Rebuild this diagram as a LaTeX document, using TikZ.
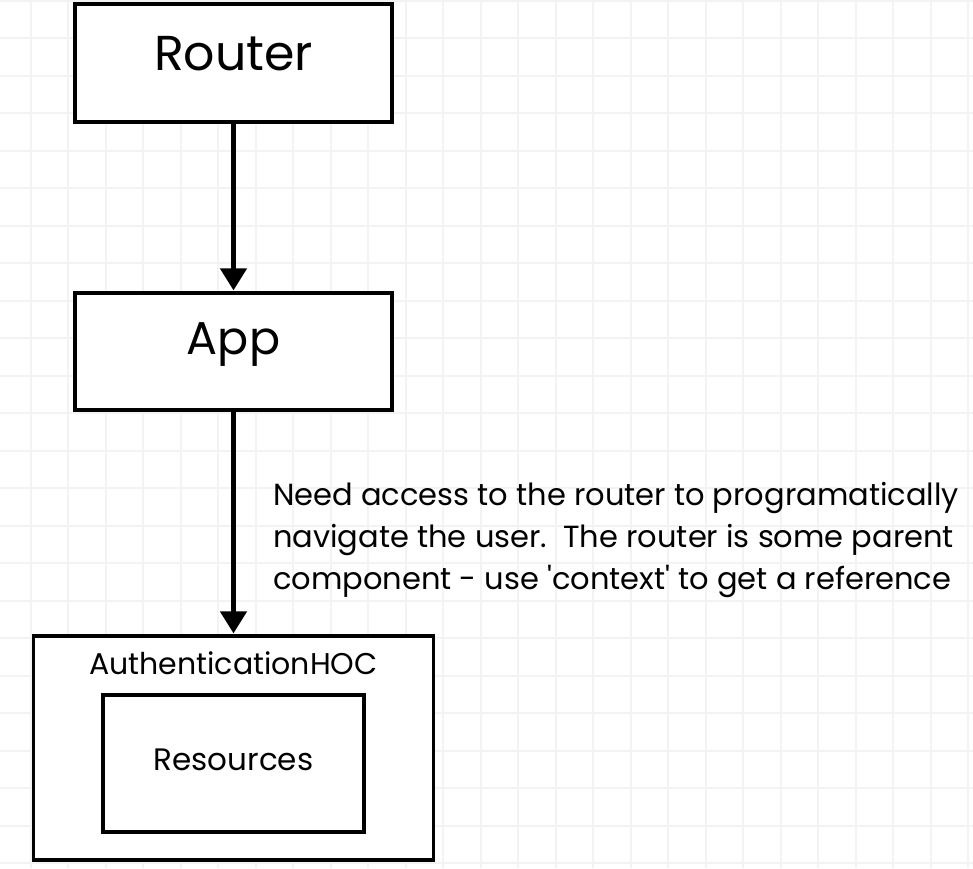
\documentclass[tikz,border=0pt]{standalone}
\usepackage{fontspec}
\setmainfont{Poppins}[Ligatures=TeXOff]
\usetikzlibrary{arrows.meta}
\definecolor{gridc}{HTML}{F3F3F3}
\tikzset{
  box/.style={draw=black, line width=3.2pt, fill=white, inner sep=0pt},
  conn/.style={line width=4.5pt, -{Triangle[length=22pt,width=26pt]}, shorten >=1pt},
  big/.style={font=\fontsize{46}{50}\selectfont},
  mid/.style={font=\fontsize{30}{34}\selectfont},
}
\begin{document}
\begin{tikzpicture}[x=1pt,y=-1pt]
\useasboundingbox (0,0) rectangle (973,868);
\fill[white] (0,0) rectangle (973,868);
\foreach \k in {0,...,26} {
  \draw[gridc, line width=2pt] ({30.7+37.5*\k-37.5},0) -- ({30.7+37.5*\k-37.5},868);
  \draw[gridc, line width=2pt] (0,{0.8+37.5*\k}) -- (973,{0.8+37.5*\k});
}
\node[box, minimum width=317pt, minimum height=118pt] (router) at (233.5,63) {};
\node[big, font=\fontsize{49}{52}\selectfont] (routert) at (233.5,54) {Router};
\node[box, minimum width=317pt, minimum height=117pt] (app) at (233.5,351.5) {};
\node[big] (appt) at (233.5,345) {App};
\node[box, minimum width=400pt, minimum height=224pt] (auth) at (233.5,748) {};
\node[mid] (autht) at (233.5,663) {AuthenticationHOC};
\node[box, minimum width=261pt, minimum height=137pt] (res) at (233.5,763.5) {};
\node[mid, font=\fontsize{31}{34}\selectfont] (rest) at (233.5,760) {Resources};
\draw[conn] (router.south) -- (app.north);
\draw[conn] (app.south) -- (auth.north);
\node[anchor=west, align=left, inner sep=0pt, font=\fontsize{30.5}{42}\selectfont] (note) at (273,540)
  {Need access to the router to programatically\\navigate the user.\ \ The router is some parent\\component - use 'context' to get a reference};
\end{tikzpicture}
\end{document}
